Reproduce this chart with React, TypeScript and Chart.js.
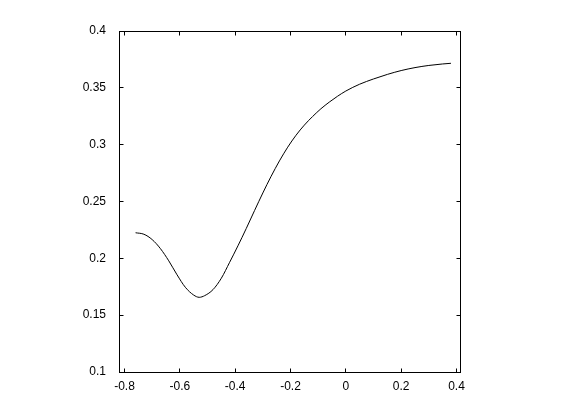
import React, { useEffect, useRef } from 'react';
import { Chart, registerables } from 'chart.js';

Chart.register(...registerables);

const xValues = [
  -0.76, -0.73, -0.7, -0.67, -0.64, -0.61, -0.58, -0.55, -0.53, -0.51, -0.48, -0.45,
  -0.42, -0.39, -0.36, -0.33, -0.3, -0.27, -0.24, -0.21, -0.18, -0.15, -0.12, -0.09,
  -0.06, -0.03, 0, 0.05, 0.1, 0.15, 0.2, 0.25, 0.3, 0.35, 0.38,
];
const yValues = [
  0.2225, 0.2212, 0.2165, 0.2085, 0.1978, 0.1855, 0.1745, 0.1677, 0.1657, 0.1672, 0.1725, 0.1825,
  0.1965, 0.211, 0.2262, 0.242, 0.2575, 0.2722, 0.2857, 0.2978, 0.3083, 0.3172, 0.3248, 0.3316,
  0.3374, 0.3426, 0.3472, 0.3532, 0.3578, 0.3618, 0.3652, 0.3678, 0.3697, 0.371, 0.3716,
];
const xTicks = [-0.8, -0.6, -0.4, -0.2, 0, 0.2, 0.4];
const xTickLabels = ['-0.8', '-0.6', '-0.4', '-0.2', '0', '0.2', '0.4'];
const yTicks = [0.1, 0.15, 0.2, 0.25, 0.3, 0.35, 0.4];
const yTickLabels = ['0.1', '0.15', '0.2', '0.25', '0.3', '0.35', '0.4'];

const X_MIN = -0.81988;
const X_MAX = 0.41265;
const Y_MIN = 0.1;
const Y_MAX = 0.4;

const boxPlugin = {
  id: 'boxTicks',
  afterDraw(chart: any) {
    const { ctx, chartArea } = chart;
    const { left, right, top, bottom } = chartArea;
    const xs = chart.scales.x;
    const ys = chart.scales.y;
    const tl = 4;
    ctx.save();
    ctx.strokeStyle = '#000';
    ctx.lineWidth = 1;
    ctx.strokeRect(left + 0.5, top + 0.5, right - left, bottom - top);
    ctx.beginPath();
    xTicks.forEach((v) => {
      const px = Math.floor(xs.getPixelForValue(v)) + 0.5;
      ctx.moveTo(px, bottom + 0.5);
      ctx.lineTo(px, bottom + 0.5 - tl);
      ctx.moveTo(px, top + 0.5);
      ctx.lineTo(px, top + 0.5 + tl);
    });
    yTicks.forEach((v) => {
      const py = Math.floor(ys.getPixelForValue(v)) + 0.5;
      ctx.moveTo(left + 0.5, py);
      ctx.lineTo(left + 0.5 + tl, py);
      ctx.moveTo(right + 0.5, py);
      ctx.lineTo(right + 0.5 - tl, py);
    });
    ctx.stroke();
    ctx.restore();
  },
};

export default function App() {
  const canvasRef = useRef<HTMLCanvasElement | null>(null);

  useEffect(() => {
    if (!canvasRef.current) return;
    const font = { family: '"Liberation Sans", Arial, sans-serif', size: 12 };
    const chart = new Chart(canvasRef.current, {
      type: 'line',
      data: {
        datasets: [
          {
            data: xValues.map((x, i) => ({ x, y: yValues[i] })),
            borderColor: '#000',
            borderWidth: 1,
            pointRadius: 0,
            cubicInterpolationMode: 'monotone',
            fill: false,
          },
        ],
      },
      options: {
        responsive: false,
        animation: false,
        events: [],
        layout: { padding: { left: 0, top: 31, right: 101, bottom: 0 } },
        plugins: { legend: { display: false }, tooltip: { enabled: false } },
        scales: {
          x: {
            type: 'linear',
            min: X_MIN,
            max: X_MAX,
            grid: { display: false },
            border: { display: false },
            ticks: {
              color: '#000',
              font,
              padding: -1,
              maxRotation: 0,
              autoSkip: false,
              callback: (v: any) => {
                const i = xTicks.findIndex((t) => Math.abs(t - Number(v)) < 1e-9);
                return i >= 0 ? xTickLabels[i] : '';
              },
            },
            afterBuildTicks: (scale: any) => {
              scale.ticks = xTicks.map((v) => ({ value: v }));
            },
            afterFit: (scale: any) => {
              scale.height = 48;
              scale.paddingLeft = 0;
              scale.paddingRight = 0;
              scale.paddingTop = 0;
              scale.paddingBottom = 0;
            },
          },
          y: {
            type: 'linear',
            min: Y_MIN,
            max: Y_MAX,
            grid: { display: false },
            border: { display: false },
            ticks: {
              color: '#000',
              font,
              padding: 5,
              autoSkip: false,
              callback: (v: any) => {
                const i = yTicks.findIndex((t) => Math.abs(t - Number(v)) < 1e-9);
                return i >= 0 ? yTickLabels[i] : '';
              },
            },
            afterBuildTicks: (scale: any) => {
              scale.ticks = yTicks.map((v) => ({ value: v }));
            },
            afterFit: (scale: any) => {
              scale.width = 119;
              scale.paddingLeft = 0;
              scale.paddingRight = 0;
              scale.paddingTop = 0;
              scale.paddingBottom = 0;
            },
          },
        },
      },
      plugins: [boxPlugin],
    } as any);
    return () => chart.destroy();
  }, []);

  return (
    <div style={{ position: 'fixed', left: 0, top: 0, width: 561, height: 420, background: '#fff' }}>
      <canvas ref={canvasRef} width={561} height={420} style={{ display: 'block', width: 561, height: 420 }} />
    </div>
  );
}
